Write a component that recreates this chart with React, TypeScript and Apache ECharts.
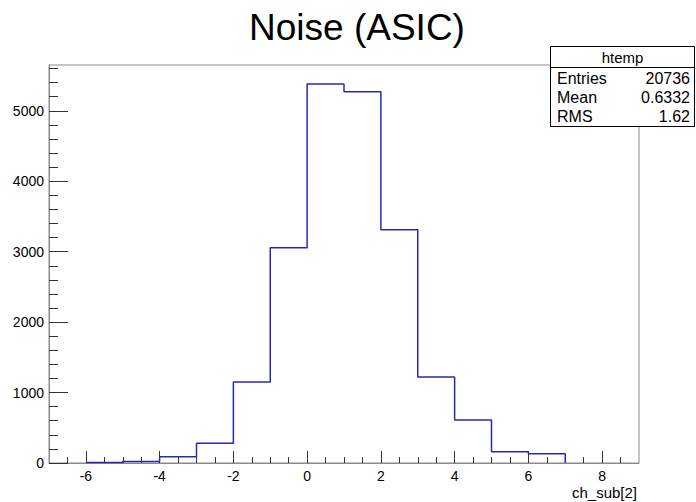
import React, { useEffect, useRef } from "react";
import * as echarts from "echarts";

const binEdges = [-6, -5, -4, -3, -2, -1, 0, 1, 2, 3, 4, 5, 6, 7];
const binCounts = [8, 20, 90, 280, 1150, 3055, 5380, 5270, 3310, 1220, 610, 160, 130];
const xMajorTicks = [-6, -4, -2, 0, 2, 4, 6, 8];
const xMinorTicks = [-6.5, -6, -5.5, -5, -4.5, -4, -3.5, -3, -2.5, -2, -1.5, -1, -0.5, 0, 0.5, 1, 1.5, 2, 2.5, 3, 3.5, 4, 4.5, 5, 5.5, 6, 6.5, 7, 7.5, 8, 8.5];
const yMinorTicks = [200, 400, 600, 800, 1200, 1400, 1600, 1800, 2200, 2400, 2600, 2800, 3200, 3400, 3600, 3800, 4200, 4400, 4600, 4800, 5200, 5400, 5600];
const statsLabels = ["Entries", "Mean", "RMS"];
const statsValues = ["20736", "0.6332", "1.62"];
const titleText = "Noise (ASIC)";
const statsTitle = "htemp";
const xAxisTitle = "ch_sub[2]";

const FONT = "'Liberation Sans', Arial, sans-serif";

export default function App() {
  const ref = useRef<HTMLDivElement>(null);
  useEffect(() => {
    if (!ref.current) return;
    const chart = echarts.init(ref.current, undefined, { renderer: "svg" });
    const pts: number[][] = [];
    binCounts.forEach((v, i) => {
      pts.push([binEdges[i], v]);
      pts.push([binEdges[i + 1], v]);
    });
    pts.push([binEdges[binEdges.length - 1], 0]);

    const xMin = -7, xMax = 9, yMax = 5650;
    const axisGrey = "#8a8a8a";
    const tickCol = "#333";

    const statsGraphics: any[] = [
      { type: "rect", shape: { x: 550.5, y: 46.5, width: 144, height: 80 }, style: { fill: "#fff", stroke: "#000", lineWidth: 1 }, z: 10 },
      { type: "line", shape: { x1: 550.5, y1: 67.5, x2: 694.5, y2: 67.5 }, style: { stroke: "#000", lineWidth: 1 }, z: 11 },
      { type: "text", x: 622.5, y: 57.5, style: { text: statsTitle, font: `15px ${FONT}`, fill: "#000", textAlign: "center", textVerticalAlign: "middle" }, z: 12 },
    ];
    const rowY = [78.5, 97.5, 116];
    statsLabels.forEach((l, i) => {
      statsGraphics.push({ type: "text", x: 557, y: rowY[i], style: { text: l, font: `16px ${FONT}`, fill: "#000", textAlign: "left", textVerticalAlign: "middle" }, z: 12 });
      statsGraphics.push({ type: "text", x: 690, y: rowY[i], style: { text: statsValues[i], font: `16px ${FONT}`, fill: "#000", textAlign: "right", textVerticalAlign: "middle" }, z: 12 });
    });

    chart.setOption({
      animation: false,
      backgroundColor: "#fff",
      grid: { left: 49, right: 57, top: 65, bottom: 39, show: true, borderColor: axisGrey, borderWidth: 1, backgroundColor: "transparent" },
      xAxis: [
        {
          type: "value", min: xMin, max: xMax, position: "bottom",
          axisLine: { show: true, onZero: false, lineStyle: { color: axisGrey, width: 1 } },
          axisTick: { show: true, inside: true, length: 12, customValues: xMajorTicks, lineStyle: { color: tickCol, width: 1 } },
          axisLabel: { show: true, customValues: xMajorTicks, fontSize: 14, fontFamily: FONT, color: "#000", margin: 6 },
          splitLine: { show: false },
        },
        {
          type: "value", min: xMin, max: xMax, position: "bottom",
          axisLine: { show: false, onZero: false },
          axisTick: { show: true, inside: true, length: 6, customValues: xMinorTicks, lineStyle: { color: tickCol, width: 1 } },
          axisLabel: { show: false },
          splitLine: { show: false },
        },
      ],
      yAxis: [
        {
          type: "value", min: 0, max: yMax, interval: 1000, position: "left",
          axisLine: { show: true, onZero: false, lineStyle: { color: axisGrey, width: 1 } },
          axisTick: { show: true, inside: true, length: 19, lineStyle: { color: tickCol, width: 1 } },
          axisLabel: { show: true, fontSize: 14, fontFamily: FONT, color: "#000", margin: 5, showMaxLabel: false, formatter: (v: number) => String(v) },
          splitLine: { show: false },
        },
        {
          type: "value", min: 0, max: yMax, position: "left",
          axisLine: { show: false, onZero: false },
          axisTick: { show: true, inside: true, length: 9, customValues: yMinorTicks, lineStyle: { color: tickCol, width: 1 } },
          axisLabel: { show: false },
          splitLine: { show: false },
        },
      ],
      series: [
        {
          type: "line", xAxisIndex: 0, yAxisIndex: 0, data: pts, symbol: "none",
          lineStyle: { color: "#2828b8", width: 1.5 }, z: 5,
        },
      ],
      graphic: [
        { type: "text", x: 357, y: 27, style: { text: titleText, font: `37px ${FONT}`, fill: "#000", textAlign: "center", textVerticalAlign: "middle" }, z: 12 },
        { type: "text", x: 637, y: 492, style: { text: xAxisTitle, font: `15px ${FONT}`, fill: "#000", textAlign: "right", textVerticalAlign: "middle" }, z: 12 },
        ...statsGraphics,
      ],
    });
    return () => chart.dispose();
  }, []);
  return <div ref={ref} style={{ position: "fixed", left: 0, top: 0, width: 696, height: 502 }} />;
}
